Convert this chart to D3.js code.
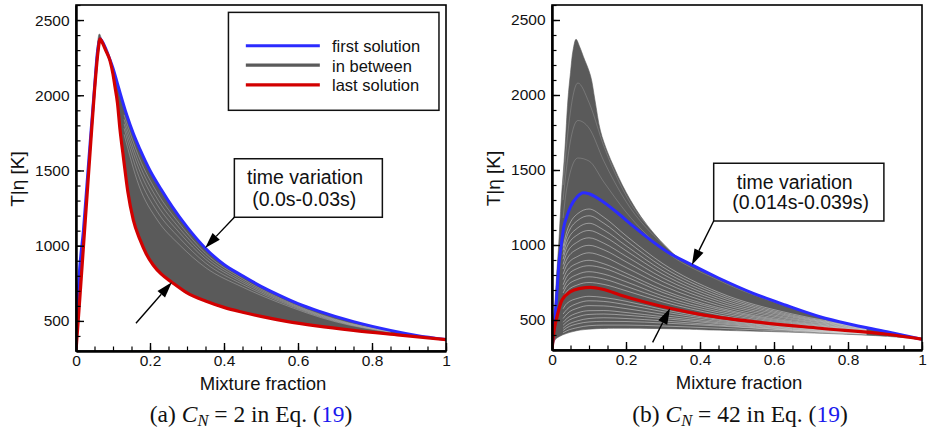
<!DOCTYPE html>
<html><head><meta charset="utf-8">
<script src="https://cdn.jsdelivr.net/npm/d3@7"></script>
<style>body{margin:0;background:#fff} svg{display:block}</style>
</head><body>
<svg id="c" width="927" height="432"></svg>
<script>
// ---------------- data ----------------
const xDomain = [0, 1];
const yDomain = [300, 2600];
const xTicks = [0, 0.2, 0.4, 0.6, 0.8, 1];
const xTickLabels = ["0", "0.2", "0.4", "0.6", "0.8", "1"];
const xMinorTicks = d3.range(0, 1.0001, 0.05);
const yTicks = [500, 1000, 1500, 2000, 2500];
const yMinorTicks = d3.range(300, 2601, 100);
const legendLabels = ["first solution", "in between", "last solution"];

// (a) C_N = 2
const leftFirst = [[0,300],[0.004,600],[0.01,850],[0.02,1100],[0.03,1420],[0.04,1740],[0.05,2050],[0.058,2290],[0.065,2376],[0.07,2362],[0.08,2312],[0.09,2248],[0.1,2180],[0.114,2060],[0.137,1870],[0.155,1745],[0.173,1640],[0.2,1500],[0.23,1375],[0.26,1260],[0.3,1125],[0.349,985],[0.4,875],[0.45,800],[0.5,730],[0.55,670],[0.6,615],[0.66,562],[0.75,495],[0.85,437],[0.92,404],[1,376]];
const leftLast = [[0,300],[0.01,640],[0.02,990],[0.03,1340],[0.04,1690],[0.05,2030],[0.06,2300],[0.065,2375],[0.07,2355],[0.08,2300],[0.092,2229],[0.1,2140],[0.105,2062],[0.112,1950],[0.119,1770],[0.128,1590],[0.14,1360],[0.155,1170],[0.173,1040],[0.19,945],[0.209,870],[0.23,812],[0.259,757],[0.299,688],[0.35,632],[0.4,590],[0.45,558],[0.5,530],[0.569,497],[0.65,467],[0.75,437],[0.876,406],[1,376]];
const leftTip = [[0.05,2040],[0.063,2408],[0.07,2368]];
const leftStreakX = [0.13, 0.17, 0.22, 0.28, 0.35, 0.45, 0.55, 0.7, 0.85];
const leftStreaks = [
  [1870,1590,1350,1145,950,780,652,512,432],
  [1840,1550,1310,1115,930,768,645,508,430],
  [1810,1510,1270,1085,910,756,638,504,428],
  [1780,1460,1225,1050,885,742,630,500,426],
  [1740,1400,1170,1005,855,725,620,495,424]
];

// (b) C_N = 42
const rightFirst = [[0,300],[0.006,470],[0.012,633],[0.018,855],[0.025,1000],[0.032,1122],[0.04,1190],[0.05,1255],[0.068,1322],[0.085,1349],[0.1,1342],[0.131,1300],[0.184,1200],[0.221,1122],[0.311,955],[0.378,867],[0.45,780],[0.544,678],[0.63,600],[0.724,522],[0.8,475],[0.905,422],[1,372]];
const rightLast = [[0,300],[0.005,420],[0.0135,522],[0.027,633],[0.05,689],[0.077,711],[0.104,718],[0.14,703],[0.184,667],[0.25,620],[0.319,578],[0.4,538],[0.544,489],[0.724,445],[0.905,405],[1,372]];
const rightUpper = [[0,300],[0.006,520],[0.012,780],[0.018,1000],[0.025,1300],[0.035,1640],[0.043,1967],[0.05,2150],[0.057,2300],[0.065,2371],[0.075,2320],[0.085,2255],[0.104,2130],[0.116,1967],[0.131,1760],[0.15,1620],[0.167,1522],[0.19,1400],[0.212,1300],[0.24,1190],[0.275,1078],[0.31,985],[0.347,905],[0.4,842],[0.45,782],[0.544,680],[0.63,601],[0.724,523],[0.8,476],[0.905,423],[1,372]];
const rightLower = [[0,300],[0.008,367],[0.02,390],[0.04,411],[0.076,433],[0.12,442],[0.166,445],[0.256,444],[0.35,440],[0.436,433],[0.616,421],[0.796,405],[0.9,392],[1,372]];
const rightStreakX = [0.03, 0.04, 0.07, 0.1, 0.14, 0.2, 0.3, 0.45, 0.65, 0.85];
const rightStreaks = [
  [415,428,450,462,466,466,460,445,424,404],
  [430,448,475,487,491,490,480,460,430,407],
  [445,465,495,510,515,510,494,466,432,408],
  [465,488,522,537,540,532,510,475,436,410],
  [485,510,548,562,563,550,522,482,440,412],
  [510,540,580,596,594,576,538,490,444,414],
  [540,570,612,628,624,602,555,498,448,416],
  [575,610,645,658,650,625,570,505,452,418],
  [650,690,735,750,737,695,620,535,465,424],
  [680,725,772,788,773,725,640,548,470,427],
  [705,755,805,822,806,755,660,560,476,430],
  [735,790,845,862,845,788,683,572,482,433],
  [770,825,880,898,875,812,700,582,488,436],
  [805,865,925,948,922,850,728,597,495,439],
  [840,905,975,998,968,888,755,613,503,442],
  [870,945,1022,1048,1012,925,780,628,510,445],
  [905,985,1070,1097,1058,962,805,643,518,448],
  [935,1020,1115,1145,1100,995,828,658,525,450],
  [965,1055,1165,1195,1145,1030,852,672,532,452],
  [990,1090,1210,1240,1185,1062,875,685,540,455]
];
const rightStreaksHigh = [
  [1180,1380,1580,1560,1420,1220,970,765,580,445],
  [1300,1530,1830,1780,1560,1290,1005,785,588,448],
  [1400,1680,2080,1950,1660,1330,1025,795,592,450]
];

// annotations (data coordinates)
const leftNote = {lines:["time variation","(0.0s-0.03s)"], box:[0.428,1578,0.828,1189], text:[[0.619,1407],[0.617,1267]],
  arrows:[{from:[0.428,1189],to:[0.349,985]},{from:[0.162,485],to:[0.259,757]}]};
const rightNote = {lines:["time variation","(0.014s-0.039s)"], box:[0.437,1545,0.897,1160], text:[[0.656,1371],[0.672,1238]],
  arrows:[{from:[0.437,1160],to:[0.378,867]},{from:[0.272,351],to:[0.319,578]}]};

// ---------------- drawing ----------------
const SANS = "'Liberation Sans', Arial, Helvetica, sans-serif";
const SERIF = "'Liberation Serif', 'Times New Roman', serif";
const BLUE = "#2b2bff", RED = "#d20000", GRAY = "#5a5a5a";
const svg = d3.select("#c");

function arrow(g, x, y, a) {
  const x1 = x(a.from[0]), y1 = y(a.from[1]), x2 = x(a.to[0]), y2 = y(a.to[1]);
  const dx = x2 - x1, dy = y2 - y1, L = Math.hypot(dx, dy), ux = dx / L, uy = dy / L;
  const hl = 16, hw = 5;
  const bx = x2 - ux * hl, by = y2 - uy * hl;
  g.append("line").attr("x1", x1).attr("y1", y1).attr("x2", bx).attr("y2", by)
    .attr("stroke", "#000").attr("stroke-width", 1.4);
  g.append("path").attr("d", `M${x2},${y2}L${bx - uy * hw},${by + ux * hw}L${bx + uy * hw},${by - ux * hw}Z`)
    .attr("fill", "#000");
}

function panel(o) {
  const x = d3.scaleLinear().domain(xDomain).range([o.x0, o.x1]);
  const y = d3.scaleLinear().domain(yDomain).range([o.yb, o.yt]);
  const g = svg.append("g");
  const line = d3.line().x(d => x(d[0])).y(d => y(d[1])).curve(d3.curveMonotoneX);
  const edge = d3.line().x(d => x(d[0])).y(d => y(d[1])).curve(d3.curveCatmullRom.alpha(0.5));

  const clip = "clip" + o.id;
  svg.append("clipPath").attr("id", clip).append("rect")
    .attr("x", o.x0).attr("y", o.yt).attr("width", o.x1 - o.x0).attr("height", o.yb - o.yt);
  const pg = g.append("g").attr("clip-path", `url(#${clip})`);

  // band of in-between solutions
  const up = edge(o.upper), lo = edge(o.lower.slice().reverse());
  pg.append("path").attr("d", up + "L" + lo.slice(1) + "Z").attr("fill", GRAY).attr("stroke", GRAY).attr("stroke-width", 0.6);
  o.streakSets.forEach(set => {
    set.rows.forEach(s => {
      pg.append("path").attr("d", line(o.streakX.map((xv, i) => [xv, s[i]])))
        .attr("fill", "none").attr("stroke", set.color).attr("stroke-width", set.w).attr("opacity", set.op);
    });
  });
  pg.append("path").attr("d", line(o.first)).attr("fill", "none").attr("stroke", BLUE).attr("stroke-width", 3);
  pg.append("path").attr("d", line(o.last)).attr("fill", "none").attr("stroke", RED).attr("stroke-width", 3.2);

  // frame
  g.append("rect").attr("x", o.x0).attr("y", o.yt).attr("width", o.x1 - o.x0).attr("height", o.yb - o.yt)
    .attr("fill", "none").attr("stroke", "#000").attr("stroke-width", 1.6);

  // axes
  const ax = g.append("g").attr("transform", `translate(0,${o.yb})`)
    .call(d3.axisBottom(x).tickValues(xTicks).tickFormat((d, i) => xTickLabels[i]).tickSize(-8).tickSizeOuter(0).tickPadding(5));
  ax.select(".domain").attr("stroke-width", 2.5);
  ax.selectAll(".tick line").attr("stroke-width", 1.4);
  ax.selectAll("text").attr("font-family", SANS).attr("font-size", 15.5).attr("fill", "#111").attr("y", 15).attr("dy", 0);
  g.append("g").attr("transform", `translate(0,${o.yb})`)
    .call(d3.axisBottom(x).tickValues(xMinorTicks).tickFormat("").tickSize(-4.5).tickSizeOuter(0))
    .call(s => s.select(".domain").remove()).selectAll("line").attr("stroke-width", 1.2);

  const ay = g.append("g").attr("transform", `translate(${o.x0},0)`)
    .call(d3.axisLeft(y).tickValues(yTicks).tickSize(-8).tickSizeOuter(0).tickPadding(6.5).tickFormat(d3.format("d")));
  ay.select(".domain").attr("stroke-width", 2.5);
  ay.selectAll(".tick line").attr("stroke-width", 1.4);
  ay.selectAll("text").attr("font-family", SANS).attr("font-size", 15.5).attr("fill", "#111");
  g.append("g").attr("transform", `translate(${o.x0},0)`)
    .call(d3.axisLeft(y).tickValues(yMinorTicks).tickFormat("").tickSize(-4.5).tickSizeOuter(0))
    .call(s => s.select(".domain").remove()).selectAll("line").attr("stroke-width", 1.2);

  // axis titles
  g.append("text").attr("x", (o.x0 + o.x1) / 2 + 2).attr("y", o.yb + 39).attr("text-anchor", "middle")
    .attr("font-family", SANS).attr("font-size", 18.5).attr("fill", "#111").text("Mixture fraction");
  g.append("text").attr("transform", `translate(${o.ytitleX},${(o.yt + o.yb) / 2 + 1}) rotate(-90)`)
    .attr("text-anchor", "middle").attr("font-family", SANS).attr("font-size", 19).attr("fill", "#111").text("T|η [K]");

  // annotation
  const n = o.note;
  const bx0 = x(n.box[0]), by0 = y(n.box[1]), bx1 = x(n.box[2]), by1 = y(n.box[3]);
  g.append("rect").attr("x", bx0).attr("y", by0).attr("width", bx1 - bx0).attr("height", by1 - by0)
    .attr("fill", "#fff").attr("stroke", "#111").attr("stroke-width", 1.5);
  n.lines.forEach((t, i) => {
    g.append("text").attr("x", x(n.text[i][0])).attr("y", y(n.text[i][1])).attr("text-anchor", "middle")
      .attr("font-family", SANS).attr("font-size", 19.5).attr("fill", "#111").text(t);
  });
  n.arrows.forEach(a => arrow(g, x, y, a));

  // caption
  const cap = g.append("text").attr("x", o.capX).attr("y", 422).attr("text-anchor", "middle")
    .attr("font-family", SERIF).attr("font-size", 23.5).attr("fill", "#111");
  cap.append("tspan").text(o.capPre + " ");
  cap.append("tspan").attr("font-style", "italic").text("C");
  cap.append("tspan").attr("font-style", "italic").attr("font-size", 16.5).attr("dy", 4).text("N");
  cap.append("tspan").attr("dy", -4).text(" = " + o.capVal + " in Eq. (");
  cap.append("tspan").attr("fill", "#1a1aee").text("19");
  cap.append("tspan").text(")");

  return {g, x, y};
}

const L = panel({id: "a", x0: 76, x1: 446, yt: 5, yb: 351, ytitleX: 23.5,
  first: leftFirst, last: leftLast,
  upper: leftTip.concat(leftFirst.filter(d => d[0] >= 0.08)), lower: leftLast.filter(d => d[0] >= 0.065),
  streakX: leftStreakX, streakSets: [{rows: leftStreaks, color: "#cfcfcf", w: 0.8, op: 0.45}],
  note: leftNote, capX: 251, capPre: "(a)", capVal: "2"});

const R = panel({id: "b", x0: 552, x1: 922, yt: 5, yb: 350, ytitleX: 499.5,
  first: rightFirst, last: rightLast,
  upper: rightUpper, lower: rightLower,
  streakX: rightStreakX, streakSets: [
    {rows: rightStreaks, color: "#ffffff", w: 0.8, op: 0.5},
    {rows: rightStreaksHigh, color: "#ffffff", w: 0.7, op: 0.25}],
  note: rightNote, capX: 740, capPre: "(b)", capVal: "42"});

// legend (left panel)
{
  const {g, x, y} = L;
  const bx0 = x(0.412), by0 = y(2551), bx1 = x(0.981), by1 = y(1900);
  g.append("rect").attr("x", bx0).attr("y", by0).attr("width", bx1 - bx0).attr("height", by1 - by0)
    .attr("fill", "#fff").attr("stroke", "#111").attr("stroke-width", 1.5);
  const cols = [BLUE, GRAY, RED];
  const ly = [2329, 2200, 2069];
  legendLabels.forEach((t, i) => {
    g.append("line").attr("x1", x(0.459)).attr("x2", x(0.659)).attr("y1", y(ly[i])).attr("y2", y(ly[i]))
      .attr("stroke", cols[i]).attr("stroke-width", 3.2);
    g.append("text").attr("x", x(0.692)).attr("y", y(ly[i]) + 6.5)
      .attr("font-family", SANS).attr("font-size", 16.5).attr("fill", "#111").text(t);
  });
}
</script>
</body></html>
